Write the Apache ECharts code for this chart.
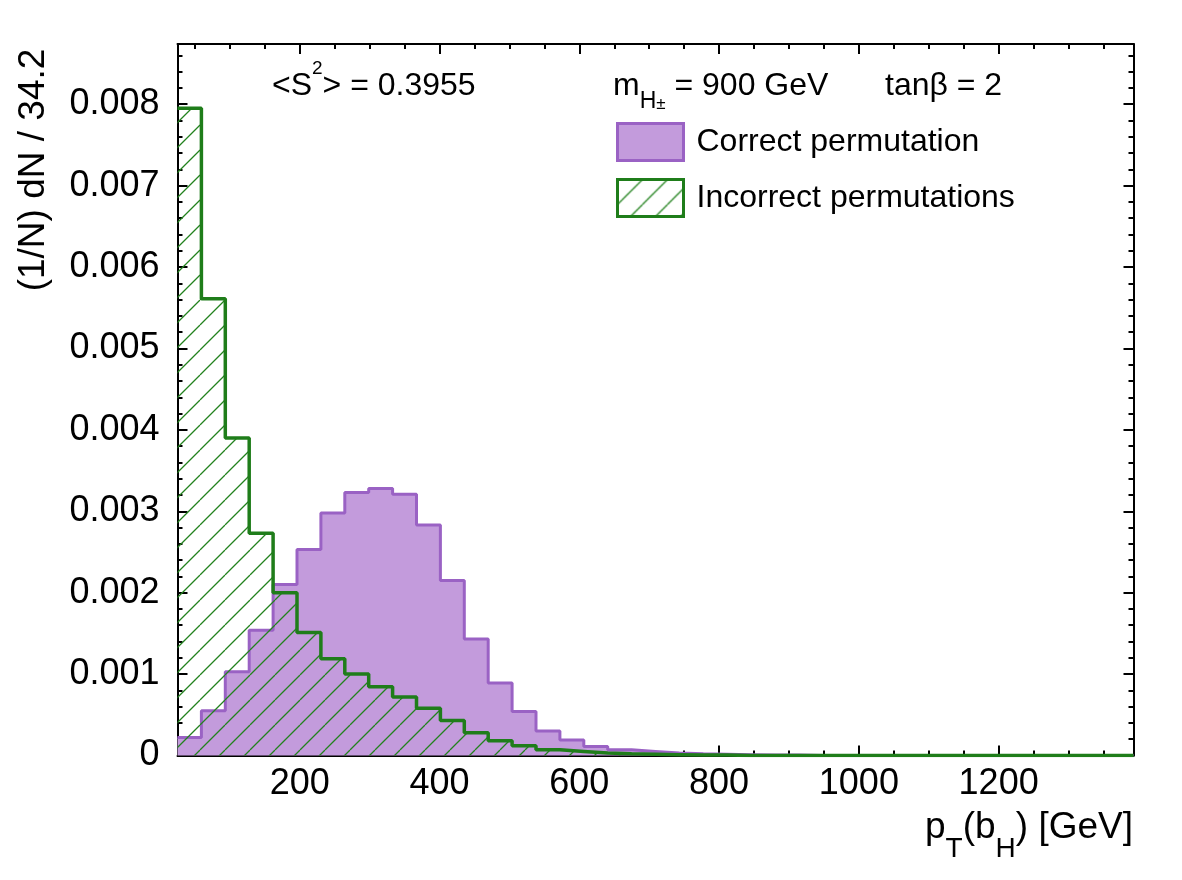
<!DOCTYPE html>
<html>
<head>
<meta charset="utf-8">
<title>pT(bH) - correct vs incorrect permutations</title>
<script src="https://cdn.jsdelivr.net/npm/echarts@6/dist/echarts.min.js"></script>
<style>
html, body { margin: 0; padding: 0; background: #fff; }
#chart { width: 1182px; height: 880px; }
</style>
</head>
<body>
<div id="chart"></div>
<script>
// histogram binning (GeV)
const binStart = 25;
const binWidth = 34.2;
const xMin = 25;
const xMax = 1393;
const yMax = 0.00874;

// (1/N) dN per bin
const correctPerm = [
    0.00022, 0.00055, 0.00103, 0.00154, 0.00210, 0.00253, 0.00298, 0.00323,
    0.00328, 0.00321, 0.00283, 0.00215, 0.00143, 0.00089, 0.00054, 0.00030,
    0.00019, 0.00011, 0.00007, 0.00005, 0.00003, 0.00002, 0.000015, 0.00001,
    0.000005, 0.000005, 0, 0, 0, 0, 0, 0,
    0, 0, 0, 0, 0, 0, 0, 0
];
const incorrectPerm = [
    0.00795, 0.00561, 0.00390, 0.00273, 0.00200, 0.00151, 0.00119, 0.00100,
    0.000845, 0.00072, 0.00058, 0.00043, 0.00028, 0.00018, 0.00012, 0.00007,
    0.00005, 0.00003, 0.00002, 0.000015, 0.00001, 0.000005, 0.000005, 0,
    0, 0, 0, 0, 0, 0, 0, 0,
    0, 0, 0, 0, 0, 0, 0, 0
];

const xMajorTicks = [200, 400, 600, 800, 1000, 1200];
const yMajorTicks = [0, 0.001, 0.002, 0.003, 0.004, 0.005, 0.006, 0.007, 0.008];
const xMinorTicks = Array.from({ length: 27 }, (_, i) => 50 + i * 50);
const yMinorTicks = Array.from({ length: 44 }, (_, i) => i * 0.0002);

const fontFamily = "'Liberation Sans', Arial, sans-serif";
const purpleFill = '#c39bdc';
const purpleLine = '#9a62c4';
const green = '#1f7d1a';

// diagonal hatch used for the incorrect permutations
function makeHatch(size, color, width) {
    const c = document.createElement('canvas');
    c.width = size;
    c.height = size;
    const ctx = c.getContext('2d');
    ctx.strokeStyle = color;
    ctx.lineWidth = width;
    ctx.beginPath();
    [-size, 0, size].forEach((k) => {
        ctx.moveTo(k, size);
        ctx.lineTo(k + size, 0);
    });
    ctx.stroke();
    return { image: c, repeat: 'repeat' };
}
const hatch = makeHatch(25, '#23821e', 1.3);

// points at each bin's low edge plus the last upper edge, drawn as steps
function stepData(values) {
    const pts = values.map((v, i) => [binStart + i * binWidth, v]);
    pts.push([binStart + values.length * binWidth, values[values.length - 1]]);
    return pts;
}

function xAxisDef(position, major, showLine) {
    return {
        type: 'value',
        min: xMin,
        max: xMax,
        position: position,
        axisLine: { show: showLine, onZero: false, lineStyle: { color: '#000', width: 2 } },
        axisTick: {
            show: true,
            inside: true,
            length: major ? 10 : 5,
            customValues: major ? xMajorTicks : xMinorTicks,
            lineStyle: { color: '#000', width: 2 },
        },
        axisLabel: {
            show: major && position === 'bottom',
            customValues: xMajorTicks,
            margin: 11,
            fontSize: 36,
            fontFamily,
            color: '#000',
            formatter: (v) => String(v),
        },
        splitLine: { show: false },
    };
}

function yAxisDef(position, major, showLine) {
    return {
        type: 'value',
        min: 0,
        max: yMax,
        position: position,
        axisLine: { show: showLine, onZero: false, lineStyle: { color: '#000', width: 2 } },
        axisTick: {
            show: true,
            inside: true,
            length: major ? 10 : 5,
            customValues: major ? yMajorTicks : yMinorTicks,
            lineStyle: { color: '#000', width: 2 },
        },
        axisLabel: {
            show: major && position === 'left',
            customValues: yMajorTicks,
            margin: 18,
            fontSize: 36,
            fontFamily,
            color: '#000',
            formatter: (v) => (v === 0 ? '0' : v.toFixed(3)),
        },
        splitLine: { show: false },
    };
}

const chart = echarts.init(document.getElementById('chart'));

const option = {
    animation: false,
    backgroundColor: '#fff',
    grid: { left: 177.5, top: 44, width: 956, height: 711.5 },
    xAxis: [
        xAxisDef('bottom', true, true),
        xAxisDef('bottom', false, false),
        xAxisDef('top', true, true),
        xAxisDef('top', false, false),
    ],
    yAxis: [
        yAxisDef('left', true, true),
        yAxisDef('left', false, false),
        yAxisDef('right', true, true),
        yAxisDef('right', false, false),
    ],
    legend: {
        orient: 'vertical',
        left: 616,
        top: 122,
        itemWidth: 66,
        itemHeight: 37,
        itemGap: 16,
        icon: 'rect',
        selectedMode: false,
        padding: 0,
        textStyle: { fontSize: 32, fontFamily, color: '#000', padding: [0, 0, 0, 8] },
        data: [
            { name: 'Correct permutation', itemStyle: { color: purpleFill, borderColor: purpleLine, borderWidth: 3 } },
            { name: 'Incorrect permutations', itemStyle: { color: hatch, borderColor: green, borderWidth: 3 } },
        ],
    },
    graphic: [
        {
            type: 'text',
            x: 272,
            y: 86,
            style: {
                text: '{n|<S}{sup|2}{n|> = 0.3955}',
                textAlign: 'left',
                textVerticalAlign: 'middle',
                rich: {
                    n: { fontSize: 32, fontFamily, lineHeight: 54, fill: '#000' },
                    sup: { fontSize: 19, fontFamily, lineHeight: 21, verticalAlign: 'top', fill: '#000' },
                },
            },
        },
        {
            type: 'text',
            x: 613,
            y: 86,
            style: {
                text: '{n|m}{sub|H}{pm|±}{n| = 900 GeV}',
                textAlign: 'left',
                textVerticalAlign: 'middle',
                rich: {
                    n: { fontSize: 32, fontFamily, lineHeight: 54, fill: '#000' },
                    sub: { fontSize: 23, fontFamily, lineHeight: 27, verticalAlign: 'bottom', fill: '#000' },
                    pm: { fontSize: 17, fontFamily, lineHeight: 42, verticalAlign: 'bottom', fill: '#000' },
                },
            },
        },
        {
            type: 'text',
            x: 885,
            y: 86,
            style: {
                text: 'tanβ = 2',
                textAlign: 'left',
                textVerticalAlign: 'middle',
                fontSize: 32,
                fontFamily,
                fill: '#000',
            },
        },
        {
            type: 'text',
            x: 1133,
            y: 828,
            style: {
                text: '{n|p}{sub|T}{n|(b}{sub|H}{n|) [GeV]}',
                textAlign: 'right',
                textVerticalAlign: 'middle',
                rich: {
                    n: { fontSize: 37, fontFamily, lineHeight: 70, fill: '#000' },
                    sub: { fontSize: 28, fontFamily, lineHeight: 30, verticalAlign: 'bottom', fill: '#000' },
                },
            },
        },
        {
            type: 'text',
            x: 34,
            y: 170,
            rotation: Math.PI / 2,
            style: {
                text: '(1/N) dN / 34.2',
                textAlign: 'center',
                textVerticalAlign: 'middle',
                fontSize: 37,
                fontFamily,
                fill: '#000',
            },
        },
    ],
    series: [
        {
            name: 'Correct permutation',
            type: 'line',
            step: 'end',
            data: stepData(correctPerm),
            symbol: 'none',
            z: 2,
            lineStyle: { color: purpleLine, width: 3 },
            itemStyle: { color: purpleFill },
            areaStyle: { color: purpleFill, opacity: 1 },
        },
        {
            name: 'Incorrect permutations',
            type: 'line',
            step: 'end',
            data: stepData(incorrectPerm),
            symbol: 'none',
            z: 3,
            lineStyle: { color: green, width: 3.5 },
            itemStyle: { color: green },
            areaStyle: { color: hatch, opacity: 1 },
        },
    ],
};

chart.setOption(option);
</script>
</body>
</html>
